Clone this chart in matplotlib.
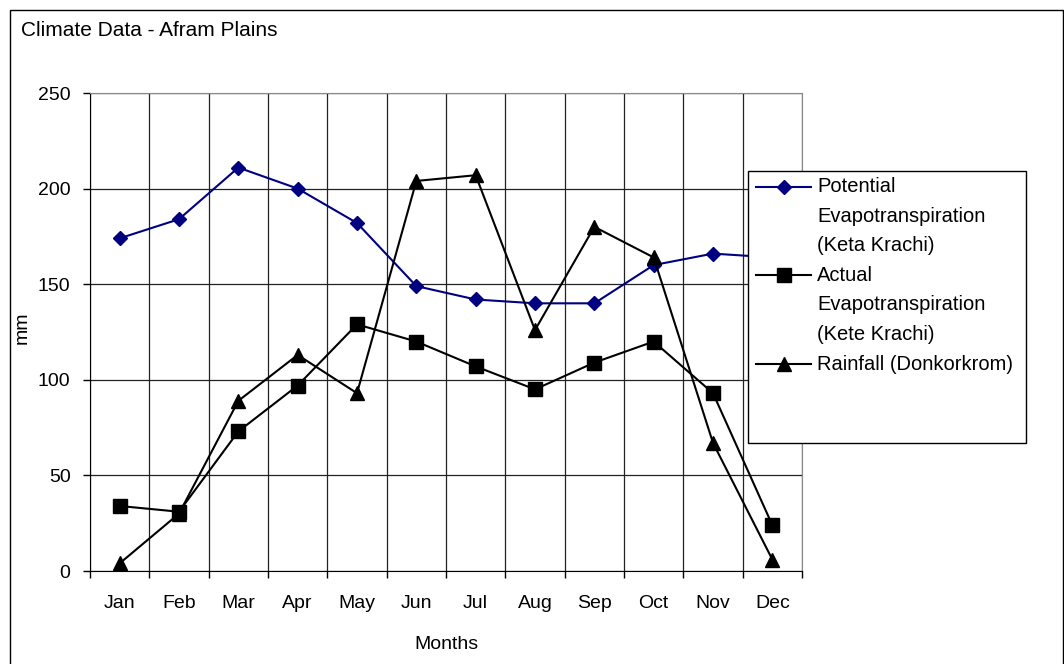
import matplotlib
matplotlib.use("Agg")
import matplotlib.pyplot as plt
from matplotlib.patches import Rectangle
from matplotlib.lines import Line2D

plt.rcParams['font.family'] = ['Liberation Sans', 'DejaVu Sans']

months = ["Jan", "Feb", "Mar", "Apr", "May", "Jun",
          "Jul", "Aug", "Sep", "Oct", "Nov", "Dec"]
potential_et = [174, 184, 211, 200, 182, 149, 142, 140, 140, 160, 166, 164]
actual_et = [34, 31, 73, 97, 129, 120, 107, 95, 109, 120, 93, 24]
rainfall = [4, 30, 89, 113, 93, 204, 207, 126, 180, 164, 67, 6]

labels = [["Potential", "Evapotranspiration", "(Keta Krachi)"],
          ["Actual", "Evapotranspiration", "(Kete Krachi)"],
          ["Rainfall (Donkorkrom)"]]

W, H = 1064, 664
fig = plt.figure(figsize=(W / 100, H / 100), dpi=100)
ax = fig.add_axes([90 / W, 1 - 571 / H, 712 / W, 478 / H])

styles = [dict(color="#000080", marker="D", ms=7.5),
          dict(color="black", marker="s", ms=9.5),
          dict(color="black", marker="^", ms=10)]

x = list(range(len(months)))
for i, vals in enumerate([potential_et, actual_et, rainfall]):
    ax.plot(x, vals, lw=1.5, zorder=3 + i, **styles[i])

ax.set_xlim(-0.5, 11.5)
ax.set_ylim(0, 250)
ax.set_yticks(range(0, 251, 50))
ax.set_xticks(x)
ax.set_xticklabels(months)
ax.set_xticks([i - 0.5 for i in range(13)], minor=True)
ax.tick_params(axis="x", which="major", length=0, pad=17, labelsize=14)
ax.tick_params(axis="x", which="minor", length=5, width=1, direction="out")
ax.tick_params(axis="y", length=5, width=1, pad=9, labelsize=14)
ax.grid(True, axis="y", color="#222222", lw=0.9)
ax.grid(True, axis="x", which="minor", color="#222222", lw=0.9)
ax.set_axisbelow(True)

for s in ["top", "right"]:
    ax.spines[s].set_color("#888888")
for s in ["left", "bottom"]:
    ax.spines[s].set_color("black")

ax.set_xlabel("Months", fontsize=14)
ax.xaxis.set_label_coords(0.5, -0.136)
ax.set_ylabel("mm", fontsize=14)
ax.yaxis.set_label_coords(-0.083, 0.509)

fig.text(21 / W, 1 - 36 / H, "Climate Data - Afram Plains", fontsize=15,
         ha="left", va="baseline")

# outer chart border
fig.add_artist(Rectangle((10 / W, -0.01), 1053 / W, 1 - 10 / H + 0.01,
                         transform=fig.transFigure, fill=False,
                         edgecolor="black", lw=1, zorder=1))

# legend box, drawn by hand so the handle sits on the first text line
fig.add_artist(Rectangle((748 / W, 1 - 443 / H), 278 / W, 272 / H,
                         transform=fig.transFigure, facecolor="white",
                         edgecolor="black", lw=1, zorder=4))
line_step = 29.6
row = 0
for i, lines in enumerate(labels):
    base = 192 + row * line_step
    yh = 1 - (base - 5.5) / H
    fig.add_artist(Line2D([756 / W, 811 / W], [yh, yh], transform=fig.transFigure,
                          lw=1.5, zorder=5, color=styles[i]["color"]))
    fig.add_artist(Line2D([783.5 / W], [yh], transform=fig.transFigure,
                          lw=0, zorder=6, markeredgecolor=styles[i]["color"],
                          markerfacecolor=styles[i]["color"],
                          marker=styles[i]["marker"], ms=styles[i]["ms"]))
    for ln in lines:
        fig.text(817 / W, 1 - (192 + row * line_step) / H, ln, fontsize=14.5,
                 ha="left", va="baseline", zorder=6)
        row += 1

fig.savefig("out.png", dpi=100)
